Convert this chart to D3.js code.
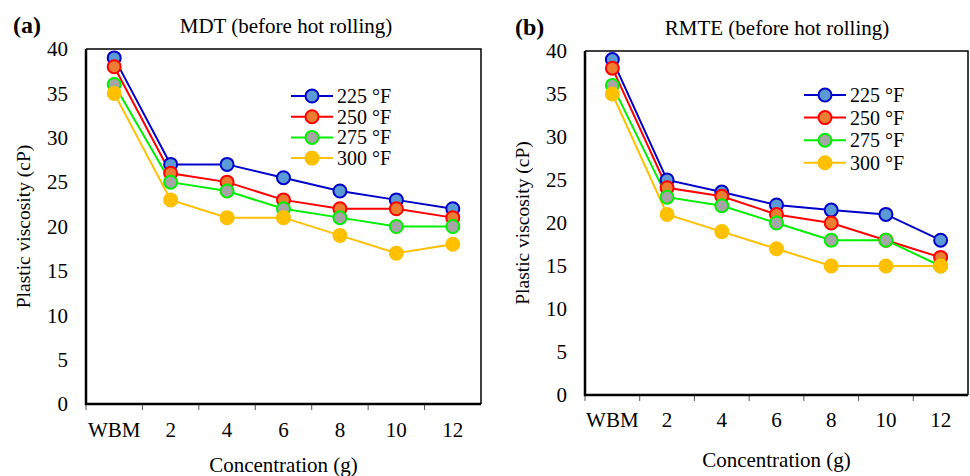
<!DOCTYPE html>
<html>
<head>
<meta charset="utf-8">
<script src="https://cdn.jsdelivr.net/npm/d3@7"></script>
<style>
  body { margin: 0; background: #fff; }
  svg text { font-family: "Liberation Serif", "Times New Roman", serif; fill: #000; }
</style>
</head>
<body>
<svg id="chart" width="970" height="476"></svg>
<script>
const categories = ['WBM', '2', '4', '6', '8', '10', '12'];
const seriesNames = ['225 °F', '250 °F', '275 °F', '300 °F'];
const yTicks = [0, 5, 10, 15, 20, 25, 30, 35, 40];

// panel (a) MDT
const mdt225 = [39, 27, 27, 25.5, 24, 23, 22];
const mdt250 = [38, 26, 25, 23, 22, 22, 21];
const mdt275 = [36, 25, 24, 22, 21, 20, 20];
const mdt300 = [35, 23, 21, 21, 19, 17, 18];

// panel (b) RMTE
const rmte225 = [39, 25, 23.6, 22.1, 21.5, 21, 18];
const rmte250 = [38, 24.1, 23.1, 21, 20, 18, 16];
const rmte275 = [36, 23, 22, 20, 18, 18, 15];
const rmte300 = [35, 21, 19, 17, 15, 15, 15];

const lineColors = ['#0000c8', '#ff0000', '#00ee00', '#ffc000'];
const fillColors = ['#5b9bd5', '#ed7d31', '#a5a5a5', '#ffc000'];

const svg = d3.select('#chart');

function drawPanel(opt) {
  const { left, top, right, bottom } = opt.box;
  const x = d3.scaleBand().domain(categories).range([left, right]);
  const y = d3.scaleLinear().domain([0, 40]).range([bottom, top]);
  const g = svg.append('g');

  // frame (top/right)
  g.append('path')
    .attr('d', `M${left},${top}H${right}V${bottom}`)
    .attr('fill', 'none').attr('stroke', '#000').attr('stroke-width', 1.5);

  // x axis ticks at band edges
  const edges = categories.map(c => x(c));
  g.selectAll('.xt').data(edges).enter().append('line')
    .attr('x1', d => d).attr('x2', d => d)
    .attr('y1', bottom).attr('y2', bottom + 6)
    .attr('stroke', '#555').attr('stroke-width', 1);
  g.selectAll('.xl').data(categories).enter().append('text')
    .attr('x', d => x(d) + x.bandwidth() / 2)
    .attr('y', bottom + opt.xLabelDy)
    .attr('text-anchor', 'middle')
    .attr('font-size', 21)
    .text(d => d);

  // axes lines
  g.append('path')
    .attr('d', `M${left},${top}V${bottom}H${right}`)
    .attr('fill', 'none').attr('stroke', '#000').attr('stroke-width', 2.5);

  // y tick labels
  g.selectAll('.yl').data(yTicks).enter().append('text')
    .attr('x', left - 18)
    .attr('y', d => y(d))
    .attr('dy', '0.35em')
    .attr('text-anchor', 'end')
    .attr('font-size', 21)
    .text(d => d);

  // titles
  g.append('text').attr('x', opt.tagX).attr('y', opt.titleY)
    .attr('font-size', 24).attr('font-weight', 'bold').text(opt.tag);
  g.append('text').attr('x', opt.titleX).attr('y', opt.titleY)
    .attr('text-anchor', 'middle').attr('font-size', 21).text(opt.title);
  g.append('text')
    .attr('transform', `translate(${left - 56},${(top + bottom) / 2}) rotate(-90)`)
    .attr('text-anchor', 'middle').attr('font-size', 19.5)
    .text('Plastic viscosity (cP)');
  g.append('text').attr('x', (left + right) / 2).attr('y', bottom + opt.xTitleDy)
    .attr('text-anchor', 'middle').attr('font-size', 21)
    .text('Concentration (g)');

  const line = d3.line()
    .x((d, i) => x(categories[i]) + x.bandwidth() / 2)
    .y(d => y(d));

  opt.series.forEach((vals, k) => {
    g.append('path').datum(vals)
      .attr('d', line)
      .attr('fill', 'none')
      .attr('stroke', lineColors[k])
      .attr('stroke-width', 2);
  });
  opt.series.forEach((vals, k) => {
    g.selectAll(null).data(vals).enter().append('circle')
      .attr('cx', (d, i) => x(categories[i]) + x.bandwidth() / 2)
      .attr('cy', d => y(d))
      .attr('r', 6.5)
      .attr('fill', fillColors[k])
      .attr('stroke', lineColors[k])
      .attr('stroke-width', 2);
  });

  // legend
  const lg = g.append('g');
  seriesNames.forEach((name, k) => {
    const ly = opt.legend.y + k * opt.legend.step;
    lg.append('line')
      .attr('x1', opt.legend.x).attr('x2', opt.legend.x + 42)
      .attr('y1', ly).attr('y2', ly)
      .attr('stroke', lineColors[k]).attr('stroke-width', 2);
    lg.append('circle')
      .attr('cx', opt.legend.x + 21).attr('cy', ly).attr('r', 6.5)
      .attr('fill', fillColors[k]).attr('stroke', lineColors[k]).attr('stroke-width', 2);
    lg.append('text')
      .attr('x', opt.legend.x + 46).attr('y', ly).attr('dy', '0.35em')
      .attr('font-size', 20).text(name);
  });
}

drawPanel({
  box: { left: 86, top: 49, right: 481, bottom: 404 },
  series: [mdt225, mdt250, mdt275, mdt300],
  tag: '(a)', tagX: 13, title: 'MDT (before hot rolling)', titleX: 286, titleY: 33,
  xLabelDy: 33, xTitleDy: 68,
  legend: { x: 291, y: 96, step: 20.7 }
});

drawPanel({
  box: { left: 585, top: 51, right: 968, bottom: 395 },
  series: [rmte225, rmte250, rmte275, rmte300],
  tag: '(b)', tagX: 515, title: 'RMTE (before hot rolling)', titleX: 777, titleY: 35,
  xLabelDy: 32, xTitleDy: 72,
  legend: { x: 804, y: 95, step: 22.6 }
});
</script>
</body>
</html>
